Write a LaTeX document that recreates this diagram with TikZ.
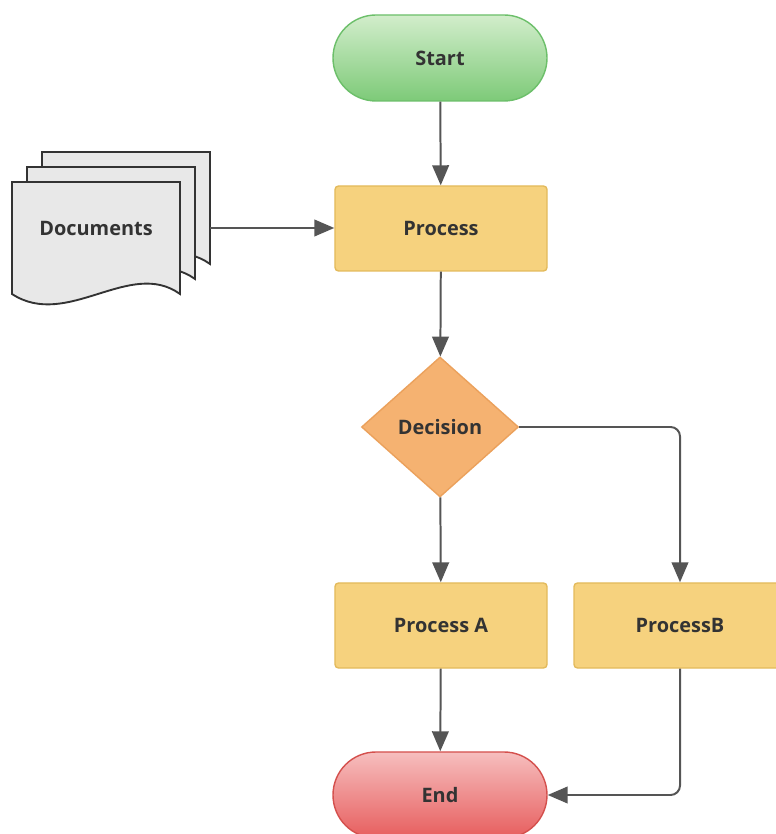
\documentclass[tikz,border=0pt]{standalone}
\usepackage{fontspec}
\setmainfont{Open Sans}
\usetikzlibrary{shapes.geometric,arrows.meta}

\definecolor{txtgray}{HTML}{333333}
\definecolor{linegray}{HTML}{555555}
\definecolor{startline}{HTML}{6CBF6A}
\definecolor{starttop}{HTML}{D2EDCB}
\definecolor{startbot}{HTML}{7DCA78}
\definecolor{endline}{HTML}{D4504D}
\definecolor{endtop}{HTML}{F6BEBE}
\definecolor{endbot}{HTML}{E75E5E}
\definecolor{procfill}{HTML}{F6D27E}
\definecolor{procline}{HTML}{E3BA5C}
\definecolor{decfill}{HTML}{F5B271}
\definecolor{decline}{HTML}{EBA15C}
\definecolor{docfill}{HTML}{E8E8E8}

% one sheet of the document stack, top-left corner at (#1,#2)
\newcommand{\docsheet}[2]{%
  \draw[sheet] (#1,#2) -- ++(0,-112)
    .. controls +(55,-36) and +(-50,36) .. ++(168,0)
    -- ++(0,112) -- cycle;}

\begin{document}
\begin{tikzpicture}[x=0.03cm,y=0.03cm,
    every node/.style={font=\bfseries\fontsize{17}{20}\selectfont,text=txtgray},
    terminal/.style={rectangle,rounded corners=1.29cm,minimum width=6.42cm,
      minimum height=2.58cm,line width=1.2pt},
    startbox/.style={terminal,draw=startline,top color=starttop,bottom color=startbot},
    endbox/.style={terminal,draw=endline,top color=endtop,bottom color=endbot},
    procbox/.style={rectangle,rounded corners=3pt,minimum width=6.36cm,
      minimum height=2.55cm,draw=procline,fill=procfill,line width=1.2pt},
    decbox/.style={diamond,minimum width=4.71cm,minimum height=4.2cm,inner sep=0pt,
      draw=decline,fill=decfill,line width=1.2pt},
    sheet/.style={draw=black!80,fill=docfill,line width=1.6pt},
    flow/.style={draw=linegray,line width=1.7pt,rounded corners=8pt,
      -{Triangle[length=0.6cm,width=0.5cm]}}]
    \useasboundingbox (0,0) rectangle (775,834);

    % document stack
    \docsheet{42}{682}
    \docsheet{27}{667}
    \docsheet{12}{652}
    \node (docs) at (96,606) {Documents};
    \coordinate (docsout) at (210,606);

    % main flow
    \node[startbox] (start) at (440,776) {Start};
    \node[procbox] (process) at (441,605.5) {Process};
    \node[decbox] (decision) at (440,407) {Decision};
    \node[procbox] (processa) at (441,208.5) {Process A};
    \node[procbox] (processb) at (680,208.5) {ProcessB};
    \node[endbox] (end) at (440,39) {End};

    \draw[flow] (start) -- (process);
    \draw[flow] (docsout) -- (docsout -| process.west);
    \draw[flow] (process) -- (decision);
    \draw[flow] (decision) -- (processa);
    \draw[flow] (decision.east) -| (processb.north);
    \draw[flow] (processa) -- (end);
    \draw[flow] (processb.south) |- (end.east);
\end{tikzpicture}
\end{document}
